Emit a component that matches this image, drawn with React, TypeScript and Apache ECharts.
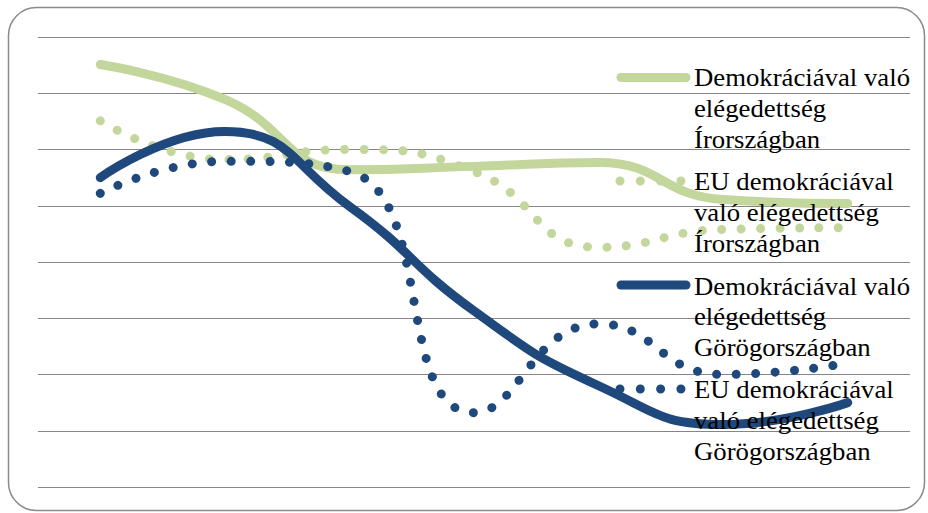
import React, { useEffect, useRef } from "react";
import * as echarts from "echarts";

const categories = ["1", "2", "3", "4", "5", "6", "7"];
const irelandDemocracy = [75.1, 68.9, 56.4, 57, 57.7, 51.1, 50.4];
const irelandEU = [65.1, 58.2, 60, 56.1, 42.6, 45.8, 46.1];
const greeceDemocracy = [55, 63.2, 49.9, 31.3, 18, 11.1, 15];
const greeceEU = [52.2, 57.9, 56.1, 13.2, 29, 20, 22];

const seriesNames = [
  "Demokráciával való\nelégedettség\nÍrországban",
  "EU demokráciával\nvaló elégedettség\nÍrországban",
  "Demokráciával való\nelégedettség\nGörögországban",
  "EU demokráciával\nvaló elégedettség\nGörögországban",
];

const GREEN = "#c3d69b";
const BLUE = "#1f497d";
const DOT: number[] = [0.01, 19.4];

export default function App() {
  const ref = useRef<HTMLDivElement>(null);
  useEffect(() => {
    if (!ref.current) return;
    const chart = echarts.init(ref.current, undefined, { renderer: "svg" });
    const seriesData = [irelandDemocracy, irelandEU, greeceDemocracy, greeceEU];
    const colors = [GREEN, GREEN, BLUE, BLUE];
    const dotted = [false, true, false, true];
    const legendIconY = [77.5, 181, 285, 389];
    const legendTextTop = [62.2, 166.5, 270.8, 374.2];

    const legendGraphics: any[] = [];
    seriesNames.forEach((name, i) => {
      legendGraphics.push({
        type: "line",
        shape: dotted[i]
          ? { x1: 620, y1: legendIconY[i], x2: 682, y2: legendIconY[i] }
          : { x1: 621, y1: legendIconY[i], x2: 686, y2: legendIconY[i] },
        style: {
          stroke: colors[i],
          lineWidth: 9,
          lineCap: "round",
          lineDash: dotted[i] ? [0.01, 20.3] : null,
        },
        z: 10,
      });
      legendGraphics.push({
        type: "text",
        x: 694,
        y: legendTextTop[i],
        scaleX: 1.07,
        style: {
          text: name,
          font: '25px "Liberation Serif", "Times New Roman", serif',
          fill: "#000",
          lineHeight: 31,
          verticalAlign: "top",
          align: "left",
        },
        z: 11,
      });
    });

    chart.setOption({
      animation: false,
      backgroundColor: "#fff",
      grid: { left: 38, right: 18, top: 37, bottom: 26, containLabel: false },
      xAxis: {
        type: "category",
        data: categories,
        boundaryGap: true,
        axisLine: { show: false },
        axisTick: { show: false },
        axisLabel: { show: false },
        splitLine: { show: false },
      },
      yAxis: {
        type: "value",
        min: 0,
        max: 80,
        interval: 10,
        axisLine: { show: false },
        axisTick: { show: false },
        axisLabel: { show: false },
        splitLine: { show: true, lineStyle: { color: "#868686", width: 1.2 } },
      },
      series: seriesData.map((d, i) => ({
        name: seriesNames[i],
        type: "line",
        data: d,
        smooth: true,
        symbol: "none",
        lineStyle: {
          color: colors[i],
          width: 9,
          cap: "round",
          join: "round",
          type: dotted[i] ? DOT : "solid",
        },
        z: 2 + i,
      })),
      graphic: [
        {
          type: "rect",
          shape: { x: 8.5, y: 7.5, width: 916, height: 503, r: 28 },
          style: { fill: "none", stroke: "#8a8a8a", lineWidth: 1.5 },
          z: 0,
        },
        ...legendGraphics,
      ],
    });
    return () => chart.dispose();
  }, []);
  return (
    <div
      ref={ref}
      style={{ position: "fixed", left: 0, top: 0, width: 928, height: 513 }}
    />
  );
}
